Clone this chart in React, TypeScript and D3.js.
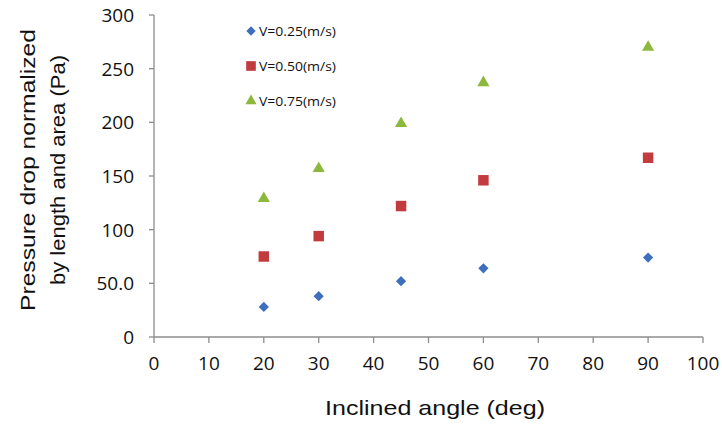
import * as d3 from 'd3';

const angles = [20, 30, 45, 60, 90];
const v025 = [28, 38, 52, 64, 74];
const v050 = [75, 94, 122, 146, 167];
const v075 = [129, 157, 199, 237, 270];

const seriesNames = ['V=0.25(m/s)', 'V=0.50(m/s)', 'V=0.75(m/s)'];
const xTicks = [0, 10, 20, 30, 40, 50, 60, 70, 80, 90, 100];
const yTicks = [0, 50, 100, 150, 200, 250, 300];
const yTickLabels = ['0', '50.0', '100', '150', '200', '250', '300'];

const width = 722;
const height = 427;
const margin = { left: 154, right: 19, top: 15, bottom: 90 };

const axisColor = '#8c8c8c';
const tickFont = '"Open Sans", sans-serif';
const titleFont = '"Liberation Sans", Arial, sans-serif';

const series = [
  { name: seriesNames[0], values: v025, color: '#3e6fbd', shape: 'diamond' },
  { name: seriesNames[1], values: v050, color: '#c23b3f', shape: 'square' },
  { name: seriesNames[2], values: v075, color: '#8cb83e', shape: 'triangle' },
];

function markerPath(shape: string, scale = 1) {
  if (shape === 'diamond') return d3.symbol(d3.symbolSquare, 52 * scale)();
  if (shape === 'square') return d3.symbol(d3.symbolSquare, 110 * scale)();
  return d3.symbol(d3.symbolTriangle, 64 * scale)();
}

export default function App() {
  const x = d3.scaleLinear().domain([0, 100]).range([margin.left, width - margin.right]);
  const y = d3.scaleLinear().domain([0, 300]).range([height - margin.bottom, margin.top]);
  const y0 = y(0);

  return (
    <svg
      width={width}
      height={height}
      style={{ position: 'fixed', left: 0, top: 0, background: '#fff' }}
    >
      {/* y axis */}
      <line x1={x(0)} x2={x(0)} y1={y(300)} y2={y0} stroke={axisColor} strokeWidth={1.3} />
      {yTicks.map((t, i) => (
        <g key={'y' + t}>
          <line x1={x(0) - 5} x2={x(0)} y1={y(t)} y2={y(t)} stroke={axisColor} strokeWidth={1.3} />
          <text
            x={x(0) - 20}
            y={y(t)}
            dy="0.36em"
            textAnchor="end"
            fontFamily={tickFont}
            fontSize={19}
            fill="#111"
          >
            {yTickLabels[i]}
          </text>
        </g>
      ))}

      {/* x axis */}
      <line x1={x(0)} x2={x(100)} y1={y0} y2={y0} stroke={axisColor} strokeWidth={1.3} />
      {xTicks.map((t) => (
        <g key={'x' + t}>
          <line x1={x(t)} x2={x(t)} y1={y0} y2={y0 + 6} stroke={axisColor} strokeWidth={1.3} />
          <text
            x={x(t)}
            y={y0 + 33}
            textAnchor="middle"
            fontFamily={tickFont}
            fontSize={19}
            fill="#111"
          >
            {t}
          </text>
        </g>
      ))}

      {/* axis titles */}
      <text
        x={435}
        y={415}
        textAnchor="middle"
        fontFamily={titleFont}
        fontSize={21}
        fill="#111"
        textLength={220}
        lengthAdjust="spacingAndGlyphs"
      >
        Inclined angle (deg)
      </text>
      <g transform="translate(0,170) rotate(-90)" fontFamily={titleFont} fontSize={21} fill="#111">
        <text x={0} y={35} textAnchor="middle" textLength={282} lengthAdjust="spacingAndGlyphs">
          Pressure drop normalized
        </text>
        <text x={0} y={65} textAnchor="middle" textLength={230} lengthAdjust="spacingAndGlyphs">
          by length and area (Pa)
        </text>
      </g>

      {/* points */}
      {series.map((s) =>
        s.values.map((v, i) => (
          <path
            key={s.name + i}
            d={markerPath(s.shape) || ''}
            transform={`translate(${x(angles[i])},${y(v)})${s.shape === 'diamond' ? ' rotate(45)' : ''}`}
            fill={s.color}
          />
        ))
      )}

      {/* legend */}
      {series.map((s, i) => (
        <g key={'lg' + s.name} transform={`translate(251,${31 + i * 35})`}>
          <path
            d={markerPath(s.shape, 0.85) || ''}
            transform={s.shape === 'diamond' ? 'rotate(45)' : ''}
            fill={s.color}
          />
          <text
            x={8}
            y={0}
            dy="0.35em"
            fontFamily={tickFont}
            fontSize={13}
            fill="#111"
            textLength={77}
            lengthAdjust="spacingAndGlyphs"
          >
            {s.name}
          </text>
        </g>
      ))}
    </svg>
  );
}
